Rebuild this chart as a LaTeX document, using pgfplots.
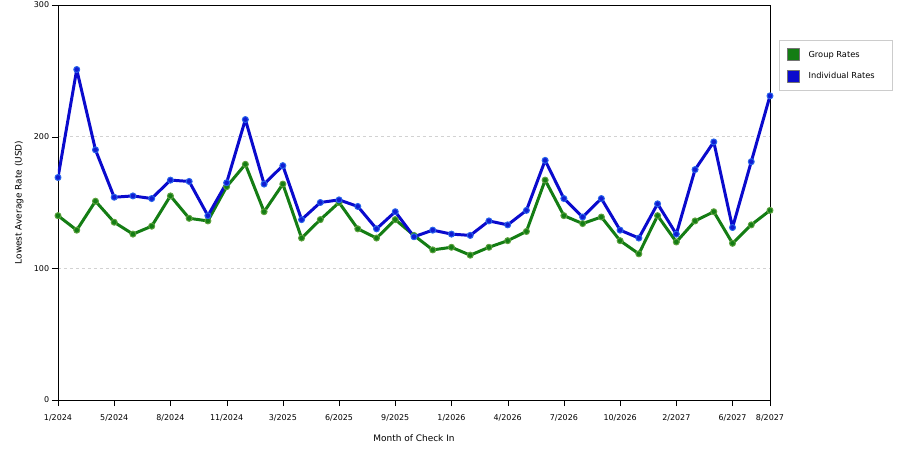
\documentclass[border=0pt]{standalone}
\usepackage{fontspec}
\setmainfont{DejaVu Sans}
\usepackage{pgfplots}
\pgfplotsset{compat=1.18}
\definecolor{grp}{RGB}{20,125,20}
\definecolor{grpmk}{RGB}{90,160,60}
\definecolor{ind}{RGB}{10,10,205}
\definecolor{indmk}{RGB}{40,100,235}

\begin{document}
\fontsize{8}{10}\selectfont
\begin{tikzpicture}
\useasboundingbox (-58bp,-50bp) rectangle (842bp,400bp);
\begin{axis}[
  at={(0,0)}, anchor=south west,
  scale only axis, width=712bp, height=395bp,
  xmin=0, xmax=38, ymin=0, ymax=300,
  xtick={0,3,6,9,12,15,18,21,24,27,30,33,36,38},
  xticklabels={1/2024,5/2024,8/2024,11/2024,3/2025,6/2025,9/2025,1/2026,4/2026,7/2026,10/2026,2/2027,6/2027,8/2027},
  ytick={0,100,200,300},
  xtick pos=bottom, ytick pos=left,
  tick align=outside,
  major tick length=6bp,
  tick style={black},
  ymajorgrids, grid style={dashed, gray!35},
  axis line style={black, line width=0.6pt},
  /pgf/number format/assume math mode=true,
  tick label style={font=\fontsize{8}{10}\selectfont},
  xticklabel style={yshift=-6bp},
  xlabel={Month of Check In}, ylabel={Lowest Average Rate (USD)},
  label style={font=\fontsize{9}{11}\selectfont},
  xlabel style={yshift=-8bp},
  ylabel style={yshift=5bp},
  legend style={at={(1.0126,0.9114)}, anchor=north west, draw=gray!40,
    font=\fontsize{8.3}{10}\selectfont, row sep=9bp, inner xsep=8bp, inner ysep=8bp,
    cells={anchor=west}, nodes={inner xsep=9bp}},
  legend image code/.code={\filldraw[draw=black!55, line width=0.4pt] (0bp,-5.5bp) rectangle (12bp,6.5bp);},
  every axis plot/.append style={line width=3pt, line join=round, mark=*, mark size=3bp},
]
\addplot[grp, mark options={draw=grpmk, fill=grp, line width=1pt}] coordinates {
(0,140) (1,129) (2,151) (3,135) (4,126) (5,132) (6,155) (7,138) (8,136) (9,162)
(10,179) (11,143) (12,164) (13,123) (14,137) (15,150) (16,130) (17,123) (18,137) (19,125)
(20,114) (21,116) (22,110) (23,116) (24,121) (25,128) (26,167) (27,140) (28,134) (29,139)
(30,121) (31,111) (32,140) (33,120) (34,136) (35,143) (36,119) (37,133) (38,144)};
\addlegendentry{Group Rates}
\addplot[ind, mark options={draw=indmk, fill=ind!80!indmk, line width=1pt}] coordinates {
(0,169) (1,251) (2,190) (3,154) (4,155) (5,153) (6,167) (7,166) (8,140) (9,165)
(10,213) (11,164) (12,178) (13,137) (14,150) (15,152) (16,147) (17,130) (18,143) (19,124)
(20,129) (21,126) (22,125) (23,136) (24,133) (25,144) (26,182) (27,153) (28,139) (29,153)
(30,129) (31,123) (32,149) (33,126) (34,175) (35,196) (36,131) (37,181) (38,231)};
\addlegendentry{Individual Rates}
\end{axis}
\end{tikzpicture}
\end{document}
